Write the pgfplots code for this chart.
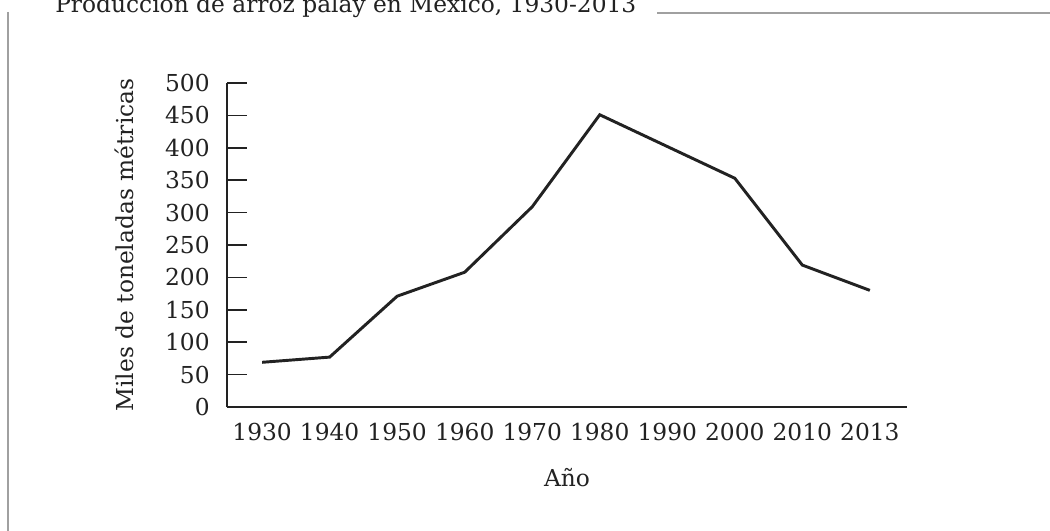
\documentclass[border=0pt]{standalone}
\usepackage{pgfplots}
\pgfplotsset{compat=1.18}
\usepackage{fontspec}
\setmainfont{DejaVu Serif}
\definecolor{txt}{HTML}{222222}
\definecolor{frame}{HTML}{A0A0A0}
\begin{document}
\begin{tikzpicture}
\begin{scope}[x=0.75pt,y=-0.75pt]
\clip (0,0) rectangle (1050,531);
\fill[white] (0,0) rectangle (1050,531);
\draw[frame, line width=1.5pt] (8,12) -- (8,531);
\draw[frame, line width=1.2pt] (657,13) -- (1050,13);
\node[anchor=base west, font=\fontsize{17.5}{20}\selectfont, text=txt, inner sep=0] at (55,13) {Producción de arroz palay en México, 1930-2013};
\end{scope}
\begin{axis}[
  at={(170.25pt,-305.25pt)}, anchor=south west,
  scale only axis, width=510pt, height=243pt,
  xmin=-0.52, xmax=9.55, ymin=0, ymax=500,
  axis lines=left, axis line style={-, line width=1.2pt, color=txt},
  xtick={0,...,9},
  xticklabels={1930,1940,1950,1960,1970,1980,1990,2000,2010,2013},
  major x tick style={draw=none},
  ytick={0,50,...,500},
  tick align=inside, major tick length=15pt,
  ytick style={line width=1.2pt, color=txt},
  tick label style={font=\fontsize{17.5}{19}\selectfont, text=txt},
  /pgf/number format/assume math mode=true,
  yticklabel style={xshift=-9.5pt},
  xticklabel style={yshift=-8.5pt},
  ylabel={Miles de toneladas métricas},
  xlabel={Año},
  label style={font=\fontsize{17.5}{19}\selectfont, text=txt},
  ylabel style={at={(axis description cs:-0.151,0.5)}, anchor=center},
  xlabel style={at={(axis description cs:0.5,-0.219)}, anchor=center},
  clip=false,
]
\addplot[line width=2.2pt, color=txt, line join=miter] coordinates {
(0,69) (1,77) (2,171) (3,208) (4,309) (5,451) (6,402) (7,353) (8,219) (9,180)
};
\end{axis}
\end{tikzpicture}
\end{document}
